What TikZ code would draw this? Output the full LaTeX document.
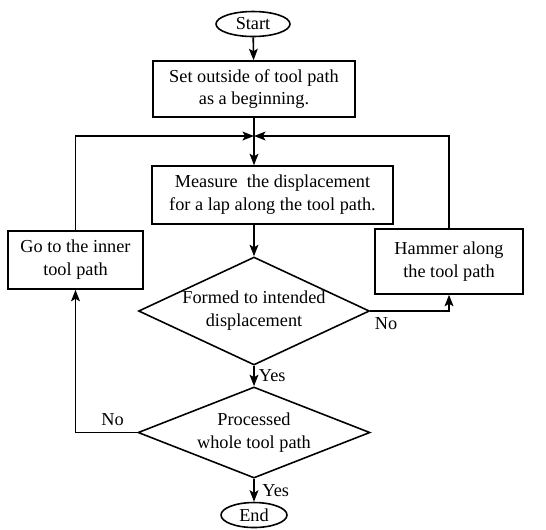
\documentclass[tikz,border=0pt]{standalone}
\usepackage{fontspec}
\setmainfont{Liberation Serif}
\usetikzlibrary{shapes.geometric,arrows.meta}

\tikzset{
  flowline/.style={line width=0.9pt},
  flowarrow/.style={flowline, -{Stealth[length=6.5pt,width=5pt,inset=1.4pt]}},
  termbox/.style={draw, ellipse, line width=0.9pt, inner sep=0pt},
  procbox/.style={draw, rectangle, line width=0.9pt, align=center, inner sep=0pt},
  decbox/.style={draw, diamond, line width=0.9pt, align=center, inner sep=0pt, aspect=2.2},
}

\begin{document}
\begin{tikzpicture}[x=0.02cm, y=-0.02cm, font=\fontsize{10.4}{13}\selectfont]
    \useasboundingbox (0,0) rectangle (546,529);

    % nodes
    \node[termbox, minimum width=1.48cm, minimum height=0.5cm] (start) at (253,24) {Start};
    \node[procbox, minimum width=4.04cm, minimum height=1.12cm] (setout) at (254,89)
      {Set outside of tool path\\ as a beginning.};
    \coordinate (junc) at (254,136);
    \node[procbox, minimum width=4.82cm, minimum height=1.16cm] (measure) at (272.5,195)
      {Measure\ \ the displacement\\ for a lap along the tool path.};
    \node[decbox, minimum width=4.62cm, minimum height=2.16cm] (formed) at (254,311)
      {Formed to intended\\ displacement};
    \node[procbox, minimum width=2.96cm, minimum height=1.3cm] (hammer) at (449,261.5)
      {Hammer along\\ the tool path};
    \node[procbox, minimum width=2.7cm, minimum height=1.16cm] (inner) at (75.5,260)
      {Go to the inner\\ tool path};
    \node[decbox, minimum width=4.64cm, minimum height=1.82cm] (whole) at (254,432.5)
      {Processed\\ whole tool path};
    \node[termbox, minimum width=1.32cm, minimum height=0.5cm] (finish) at (254,515) {End};

    % connectors
    \draw[flowarrow] (start) -- (setout);
    \draw[flowarrow] (setout.south) -- (setout.south |- measure.north);
    \draw[flowarrow] (formed.north |- measure.south) -- (formed.north);
    \draw[flowarrow] (formed.east) -| node[pos=0.1, below] {No} (hammer.south);
    \draw[flowarrow] (hammer.north) |- (junc);
    \draw[flowarrow] (inner.north) |- (junc);
    \draw[flowarrow] (formed.south) -- node[right, xshift=-1pt] {Yes} (whole.north);
    \draw[flowarrow] (whole.west) -| node[pos=0.2, above] {No} (inner.south);
    \draw[flowarrow] (whole.south) -- node[right, xshift=1pt] {Yes} (finish.north);
  \end{tikzpicture}
\end{document}
